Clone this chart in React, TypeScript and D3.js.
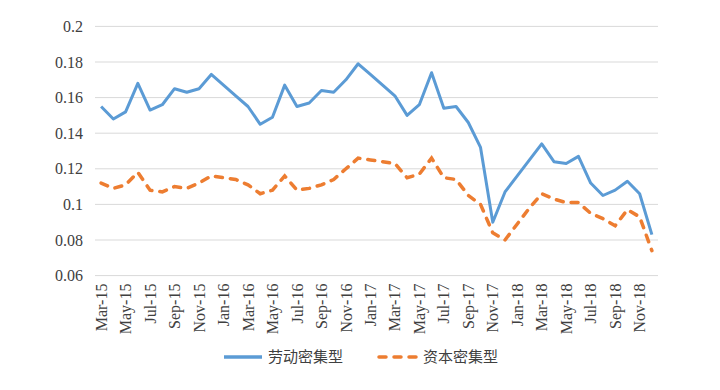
import React, { useEffect, useRef } from 'react'
import * as d3 from 'd3'

// monthly, Mar-15 .. Dec-18
const months = [
  'Mar-15', 'Apr-15', 'May-15', 'Jun-15', 'Jul-15', 'Aug-15', 'Sep-15', 'Oct-15', 'Nov-15', 'Dec-15',
  'Jan-16', 'Feb-16', 'Mar-16', 'Apr-16', 'May-16', 'Jun-16', 'Jul-16', 'Aug-16', 'Sep-16', 'Oct-16', 'Nov-16', 'Dec-16',
  'Jan-17', 'Feb-17', 'Mar-17', 'Apr-17', 'May-17', 'Jun-17', 'Jul-17', 'Aug-17', 'Sep-17', 'Oct-17', 'Nov-17', 'Dec-17',
  'Jan-18', 'Feb-18', 'Mar-18', 'Apr-18', 'May-18', 'Jun-18', 'Jul-18', 'Aug-18', 'Sep-18', 'Oct-18', 'Nov-18', 'Dec-18',
]

const labor = [
  0.155, 0.148, 0.152, 0.168, 0.153, 0.156, 0.165, 0.163, 0.165, 0.173,
  0.167, 0.161, 0.155, 0.145, 0.149, 0.167, 0.155, 0.157, 0.164, 0.163, 0.170, 0.179,
  0.173, 0.167, 0.161, 0.150, 0.156, 0.174, 0.154, 0.155, 0.146, 0.132, 0.090, 0.107,
  0.116, 0.125, 0.134, 0.124, 0.123, 0.127, 0.112, 0.105, 0.108, 0.113, 0.106, 0.083,
]

const capital = [
  0.112, 0.109, 0.111, 0.118, 0.108, 0.107, 0.110, 0.109, 0.112, 0.116,
  0.115, 0.114, 0.111, 0.106, 0.108, 0.116, 0.108, 0.109, 0.111, 0.114, 0.120, 0.126,
  0.125, 0.124, 0.123, 0.115, 0.117, 0.126, 0.115, 0.114, 0.105, 0.100, 0.084, 0.080,
  0.089, 0.098, 0.106, 0.103, 0.101, 0.101, 0.095, 0.092, 0.088, 0.097, 0.093, 0.074,
]

const yTicks = [0.06, 0.08, 0.1, 0.12, 0.14, 0.16, 0.18, 0.2]
const seriesNames = ['劳动密集型', '资本密集型']

const W = 720
const H = 390
const left = 95, right = 658, top = 26.4, bottom = 275.6
const FONT = 'Liberation Serif, DejaVu Serif, serif'
const CJK = 'Liberation Serif, Noto Sans CJK SC, serif'

export default function App() {
  const ref = useRef<SVGSVGElement>(null)

  useEffect(() => {
    const svg = d3.select(ref.current)
    svg.selectAll('*').remove()

    const x = d3.scaleBand<string>().domain(months).range([left, right]).padding(0)
    const cx = (m: string) => (x(m) as number) + x.bandwidth() / 2
    const y = d3.scaleLinear().domain([0.06, 0.2]).range([bottom, top])

    // gridlines
    svg.append('g')
      .selectAll('line')
      .data(yTicks)
      .enter().append('line')
      .attr('x1', left)
      .attr('x2', right)
      .attr('y1', d => y(d))
      .attr('y2', d => y(d))
      .attr('stroke', '#d9d9d9')
      .attr('stroke-width', 1)

    // y axis labels
    svg.append('g')
      .selectAll('text')
      .data(yTicks)
      .enter().append('text')
      .attr('x', 83)
      .attr('y', d => y(d))
      .attr('dy', '0.35em')
      .attr('text-anchor', 'end')
      .attr('font-family', FONT)
      .attr('font-size', 16)
      .attr('fill', '#404040')
      .text(d => String(+d.toFixed(2)))

    // x axis labels, every second month
    const shown = months.filter((_, i) => i % 2 === 0)
    svg.append('g')
      .selectAll('text')
      .data(shown)
      .enter().append('text')
      .attr('transform', d => 'translate(' + cx(d) + ',' + (bottom + 8) + ') rotate(-90)')
      .attr('dy', '0.35em')
      .attr('text-anchor', 'end')
      .attr('font-family', FONT)
      .attr('font-size', 16)
      .attr('fill', '#404040')
      .text(d => d)

    const line = d3.line<number>()
      .x((_, i) => cx(months[i]))
      .y(d => y(d))

    svg.append('path')
      .datum(labor)
      .attr('d', line)
      .attr('fill', 'none')
      .attr('stroke', '#5b9bd5')
      .attr('stroke-width', 3)
      .attr('stroke-linejoin', 'round')

    svg.append('path')
      .datum(capital)
      .attr('d', line)
      .attr('fill', 'none')
      .attr('stroke', '#ed7d31')
      .attr('stroke-width', 3.5)
      .attr('stroke-linecap', 'round')
      .attr('stroke-dasharray', '7,8')

    // legend
    const legend = svg.append('g')
    const ly = 357
    const items = [
      { name: seriesNames[0], color: '#5b9bd5', dash: null, x0: 222 },
      { name: seriesNames[1], color: '#ed7d31', dash: '7,8', x0: 377 },
    ]
    items.forEach(it => {
      legend.append('line')
        .attr('x1', it.x0 + 2)
        .attr('x2', it.x0 + 40)
        .attr('y1', ly)
        .attr('y2', ly)
        .attr('stroke', it.color)
        .attr('stroke-width', 3.5)
        .attr('stroke-linecap', it.dash ? 'round' : 'butt')
        .attr('stroke-dasharray', it.dash)
      legend.append('text')
        .attr('x', it.x0 + 46)
        .attr('y', ly)
        .attr('dy', '0.35em')
        .attr('font-family', CJK)
        .attr('font-size', 15)
        .attr('fill', '#404040')
        .text(it.name)
    })
  }, [])

  return (
    <div style={{ position: 'absolute', left: 0, top: 0, width: W, height: H, background: '#fff' }}>
      <svg ref={ref} width={W} height={H}></svg>
    </div>
  )
}
